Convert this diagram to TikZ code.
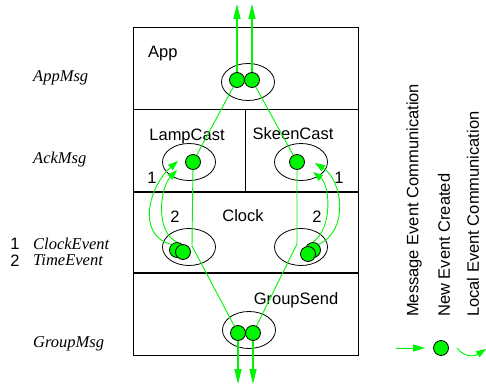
\documentclass[tikz,border=0pt]{standalone}
\usepackage{fontspec}
\setmainfont{Liberation Serif}
\setsansfont{Liberation Sans}
\usetikzlibrary{arrows.meta,shapes.geometric}
\definecolor{evgreen}{RGB}{0,245,0}
\tikzset{
	layer/.style={draw=black, line width=0.8pt},
	sepline/.style={draw=black, line width=1.6pt},
	evell/.style={ellipse, draw=black, line width=0.8pt, inner sep=0pt, minimum width=53pt, minimum height=37pt},
	evdot/.style={circle, draw=black, fill=evgreen, line width=0.8pt, inner sep=0pt, minimum size=15pt},
	msg/.style={evgreen, line width=0.9pt},
	msgend/.style={evgreen, line width=1.5pt, -{Triangle[length=15pt,width=7pt]}},
	local/.style={evgreen, line width=0.9pt, -{Triangle[length=10pt,width=7pt]}},
	lbl/.style={font=\sffamily\fontsize{16.5}{19}\selectfont, inner sep=0pt},
	evname/.style={font=\itshape\fontsize{16.5}{19}\selectfont, inner sep=0pt, anchor=west},
}
\begin{document}
\begin{tikzpicture}[x=1pt, y=-1pt]
	\useasboundingbox (0,0) rectangle (486,387);
	
	\draw[layer] (133,27) rectangle (358,355);
	\draw[layer] (133,109) -- (358,109);
	\draw[layer] (245,109) -- (245,192);
	\draw[sepline] (133,192) -- (358,192);
	\draw[sepline] (133,273) -- (358,273);
	
	\node[lbl, anchor=west] (tApp) at (148,54) {App};
	\node[lbl] (tLamp) at (187,136) {LampCast};
	\node[lbl] (tSkeen) at (293,134) {SkeenCast};
	\node[lbl] (tClock) at (243,216) {Clock};
	\node[lbl] (tGroup) at (296,300) {GroupSend};
	
	\node[evell] (eApp) at (248,82) {};
	\node[evell] (eLamp) at (189,162) {};
	\node[evell] (eSkeen) at (301,162) {};
	\node[evell] (eClkL) at (189,247) {};
	\node[evell] (eClkR) at (301,247) {};
	\node[evell] (eGroup) at (249,330) {};
	
	\coordinate (upL) at (237,4);
	\coordinate (upR) at (252,4);
	\coordinate (downL) at (238,384);
	\coordinate (downR) at (253,384);
	\coordinate (kinkL) at (192,246);
	\coordinate (kinkR) at (297,244);
	\coordinate (tipL1) at (178,161);
	\coordinate (tipL2) at (177,170);
	\coordinate (tipR1) at (315,163);
	\coordinate (tipR2) at (313,172);
	
	\node[evdot] (dAppL) at (237,80) {};
	\node[evdot] (dAppR) at (252,80) {};
	\node[evdot] (dLamp) at (193,162) {};
	\node[evdot] (dSkeen) at (297,162) {};
	\node[evdot] (dClkLa) at (177,250) {};
	\node[evdot] (dClkLb) at (183,252) {};
	\node[evdot] (dClkRa) at (313,250) {};
	\node[evdot] (dClkRb) at (308,254) {};
	\node[evdot] (dGroupL) at (238,333) {};
	\node[evdot] (dGroupR) at (253,333) {};
	
	\draw[msg] (dGroupL) -- (kinkL) -- (dLamp) -- (dAppL);
	\draw[msg] (dGroupR) -- (kinkR) -- (dSkeen) -- (dAppR);
	
	\draw[msgend] (dAppL) -- (upL);
	\draw[msgend] (dAppR) -- (upR);
	\draw[msgend] (dGroupL) -- (downL);
	\draw[msgend] (dGroupR) -- (downR);
	
	\draw[local] (dClkLa.north west) .. controls (135,235) and (150,185) .. (tipL1);
	\draw[local] (dClkLa.north) .. controls (155,232) and (160,188) .. (tipL2);
	\draw[local] (dClkRa.north east) .. controls (350,230) and (342,180) .. (tipR1);
	\draw[local] (dClkRa.north) .. controls (333,228) and (330,185) .. (tipR2);
	
	\node[lbl] (nL1) at (152,178) {1};
	\node[lbl] (nL2) at (175,217) {2};
	\node[lbl] (nR2) at (317,217) {2};
	\node[lbl] (nR1) at (339,178) {1};
	
	\node[evname] (kApp) at (33,77.5) {AppMsg};
	\node[evname] (kAck) at (33,159.5) {AckMsg};
	\node[lbl] (k1) at (15,243.5) {1};
	\node[evname] (kClock) at (33,243.5) {ClockEvent};
	\node[lbl] (k2) at (15,260.5) {2};
	\node[evname] (kTime) at (33,260.5) {TimeEvent};
	\node[evname] (kGroup) at (33,344) {GroupMsg};
	
	\node[lbl, rotate=90, anchor=west] (lgMsg) at (414,317) {Message Event Communication};
	\node[lbl, rotate=90, anchor=west] (lgNew) at (444,317) {New Event Created};
	\node[lbl, rotate=90, anchor=west] (lgLocal) at (473,317) {Local Event Communication};
	
	\coordinate (lgA) at (396,348);
	\coordinate (lgB) at (425,348);
	\draw[evgreen, line width=0.9pt, -{Triangle[length=12pt,width=7pt]}] (lgA) -- (lgB);
	\node[evdot] (lgDot) at (441,348) {};
	\coordinate (lgC) at (457,348);
	\coordinate (lgD) at (486,349);
	\draw[local] (lgC) .. controls (462,355) and (472,358) .. (lgD);
	
\end{tikzpicture}
\end{document}
